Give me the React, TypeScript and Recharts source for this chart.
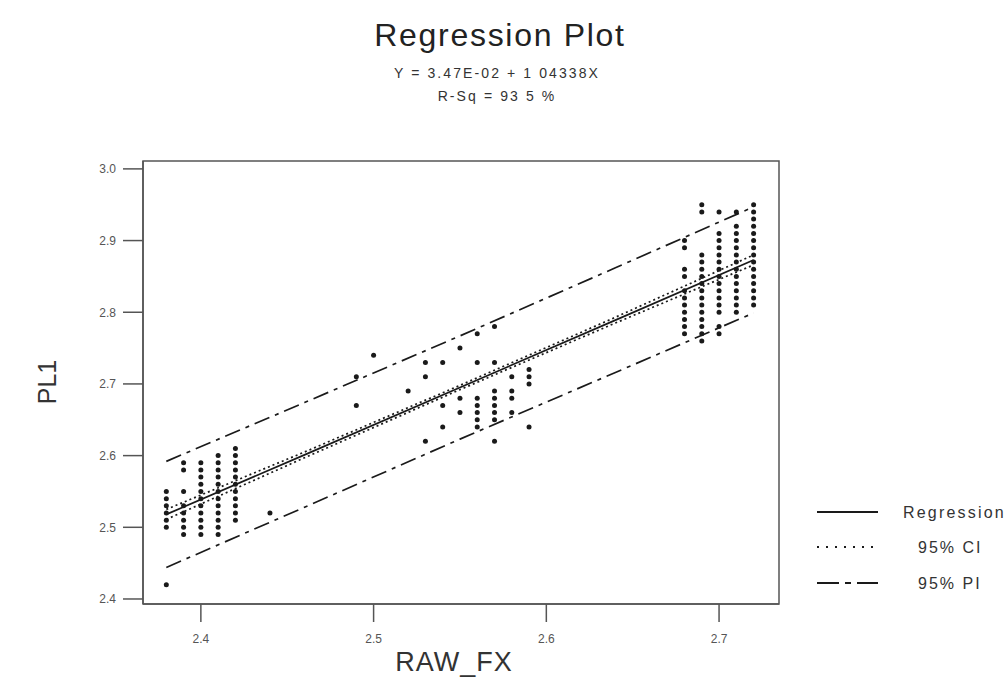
import React from "react";
import { ComposedChart, Scatter, Line, XAxis, YAxis, ReferenceArea } from "recharts";

// observed points, grouped by RAW_FX value (columns of dots)
const colX = [2.38, 2.39, 2.4, 2.41, 2.42, 2.68, 2.69, 2.7, 2.71, 2.72];
const colY = [
  [2.42, 2.5, 2.51, 2.52, 2.53, 2.54, 2.55],
  [2.49, 2.5, 2.51, 2.52, 2.53, 2.55, 2.58, 2.59],
  [2.49, 2.5, 2.51, 2.52, 2.53, 2.54, 2.55, 2.56, 2.57, 2.58, 2.59],
  [2.49, 2.5, 2.51, 2.52, 2.53, 2.54, 2.55, 2.56, 2.57, 2.58, 2.59, 2.6],
  [2.51, 2.52, 2.53, 2.54, 2.55, 2.56, 2.57, 2.58, 2.59, 2.6, 2.61],
  [2.77, 2.78, 2.79, 2.8, 2.81, 2.82, 2.83, 2.85, 2.86, 2.89, 2.9],
  [2.76, 2.77, 2.78, 2.79, 2.8, 2.81, 2.82, 2.83, 2.84, 2.85, 2.86, 2.87, 2.88, 2.94, 2.95],
  [2.77, 2.78, 2.8, 2.81, 2.82, 2.83, 2.84, 2.85, 2.86, 2.87, 2.88, 2.89, 2.9, 2.91, 2.94],
  [2.8, 2.81, 2.82, 2.83, 2.84, 2.85, 2.86, 2.87, 2.88, 2.89, 2.9, 2.91, 2.92, 2.94],
  [2.81, 2.82, 2.83, 2.84, 2.85, 2.86, 2.87, 2.88, 2.89, 2.9, 2.91, 2.92, 2.93, 2.94, 2.95],
];

// scattered points in the middle of the range
const midX = [2.44, 2.49, 2.49, 2.5, 2.52, 2.53, 2.53, 2.53, 2.54, 2.54, 2.54, 2.55, 2.55, 2.55,
  2.56, 2.56, 2.56, 2.56, 2.56, 2.56, 2.56, 2.57, 2.57, 2.57, 2.57, 2.57, 2.57, 2.57, 2.57,
  2.58, 2.58, 2.58, 2.58, 2.59, 2.59, 2.59, 2.59];
const midY = [2.52, 2.67, 2.71, 2.74, 2.69, 2.71, 2.73, 2.62, 2.73, 2.67, 2.64, 2.75, 2.68, 2.66,
  2.77, 2.73, 2.68, 2.67, 2.66, 2.65, 2.64, 2.78, 2.73, 2.69, 2.68, 2.67, 2.66, 2.65, 2.62,
  2.71, 2.69, 2.68, 2.66, 2.72, 2.71, 2.7, 2.64];

// fitted line and bands
const lineX = [2.38, 2.46, 2.55, 2.64, 2.72];
const fitY = [2.518, 2.601, 2.695, 2.789, 2.873];
const ciLow = [2.511, 2.597, 2.692, 2.785, 2.866];
const ciHigh = [2.525, 2.605, 2.698, 2.793, 2.88];
const piLow = [2.444, 2.528, 2.623, 2.716, 2.799];
const piHigh = [2.592, 2.674, 2.767, 2.862, 2.947];

const xTicks = [2.4, 2.5, 2.6, 2.7];
const yTicks = [2.4, 2.5, 2.6, 2.7, 2.8, 2.9, 3.0];
const X_DOMAIN = [2.3665, 2.7347];
const Y_DOMAIN = [2.393, 3.011];

const FONT = "'Liberation Sans', Arial, sans-serif";
const INK = "#1a1a1a";

const points = [
  ...colX.flatMap((x, i) => colY[i].map((y) => ({ x, y }))),
  ...midX.map((x, i) => ({ x, y: midY[i] })),
];
const toLine = (ys: number[]) => lineX.map((x, i) => ({ x, y: ys[i] }));

const Dot = (props: any) => <circle cx={props.cx} cy={props.cy} r={2.5} fill={INK} />;

export default function App() {
  return (
    <div style={{ position: "absolute", left: 0, top: 0, width: 1008, height: 678, background: "#fff", fontFamily: FONT, overflow: "hidden" }}>
      <div style={{ position: "absolute", left: 0, width: 1000, top: 17, textAlign: "center", fontSize: 32, letterSpacing: 1.7, color: "#222" }}>
        Regression Plot
      </div>
      <div style={{ position: "absolute", left: 0, width: 994, top: 62, textAlign: "center", fontSize: 14, letterSpacing: 2.1, color: "#333", lineHeight: "23px" }}>
        <div>Y = 3.47E-02 + 1 04338X</div>
        <div>R-Sq = 93 5 %</div>
      </div>
      <div style={{ position: "absolute", left: 47, top: 382, transform: "translate(-50%, -50%) rotate(-90deg)", fontSize: 25, color: "#333", whiteSpace: "nowrap" }}>
        PL1
      </div>
      <div style={{ position: "absolute", left: 454, top: 662, transform: "translate(-50%, -50%)", fontSize: 27, letterSpacing: 1, color: "#333", whiteSpace: "nowrap" }}>
        RAW_FX
      </div>

      <ComposedChart width={1008} height={678} margin={{ top: 161, right: 229, bottom: 34, left: 83 }}>
        <XAxis
          type="number"
          dataKey="x"
          domain={X_DOMAIN}
          allowDataOverflow
          ticks={xTicks}
          tickFormatter={(v) => v.toFixed(1)}
          tickSize={18}
          tickMargin={12}
          height={40}
          stroke="#555"
          strokeWidth={1.5}
          tick={{ fontSize: 12, fill: "#555", fontFamily: FONT }}
        />
        <YAxis
          type="number"
          dataKey="y"
          domain={Y_DOMAIN}
          allowDataOverflow
          ticks={yTicks}
          tickFormatter={(v) => v.toFixed(1)}
          tickSize={20}
          tickMargin={7}
          width={60}
          stroke="#555"
          strokeWidth={1.5}
          tick={{ fontSize: 12, fill: "#555", fontFamily: FONT }}
        />
        <ReferenceArea x1={X_DOMAIN[0]} x2={X_DOMAIN[1]} y1={Y_DOMAIN[0]} y2={Y_DOMAIN[1]} fill="none" stroke="#555" strokeWidth={1.5} />
        <Scatter data={points} shape={Dot} isAnimationActive={false} />
        <Line data={toLine(piHigh)} dataKey="y" stroke={INK} strokeWidth={1.7} strokeDasharray="16 6 4 6" dot={false} activeDot={false} isAnimationActive={false} />
        <Line data={toLine(piLow)} dataKey="y" stroke={INK} strokeWidth={1.7} strokeDasharray="16 6 4 6" dot={false} activeDot={false} isAnimationActive={false} />
        <Line data={toLine(ciHigh)} dataKey="y" stroke={INK} strokeWidth={1.7} strokeDasharray="2 3" dot={false} activeDot={false} isAnimationActive={false} />
        <Line data={toLine(ciLow)} dataKey="y" stroke={INK} strokeWidth={1.7} strokeDasharray="2 3" dot={false} activeDot={false} isAnimationActive={false} />
        <Line data={toLine(fitY)} dataKey="y" stroke={INK} strokeWidth={1.7} dot={false} activeDot={false} isAnimationActive={false} />
      </ComposedChart>

      <svg style={{ position: "absolute", left: 810, top: 495 }} width={198} height={100}>
        <line x1={7} x2={68} y1={17} y2={17} stroke={INK} strokeWidth={2} />
        <line x1={7} x2={68} y1={52} y2={52} stroke={INK} strokeWidth={2} strokeDasharray="2 7" />
        <line x1={7} x2={68} y1={88} y2={88} stroke={INK} strokeWidth={2} strokeDasharray="22 6 6 6 28" />
        <text x={93} y={23} fontSize={16} letterSpacing={2.2} fill="#333" fontFamily={FONT}>Regression</text>
        <text x={108} y={58} fontSize={16} letterSpacing={2} fill="#333" fontFamily={FONT}>95% CI</text>
        <text x={108} y={94} fontSize={16} letterSpacing={2} fill="#333" fontFamily={FONT}>95% PI</text>
      </svg>
    </div>
  );
}
